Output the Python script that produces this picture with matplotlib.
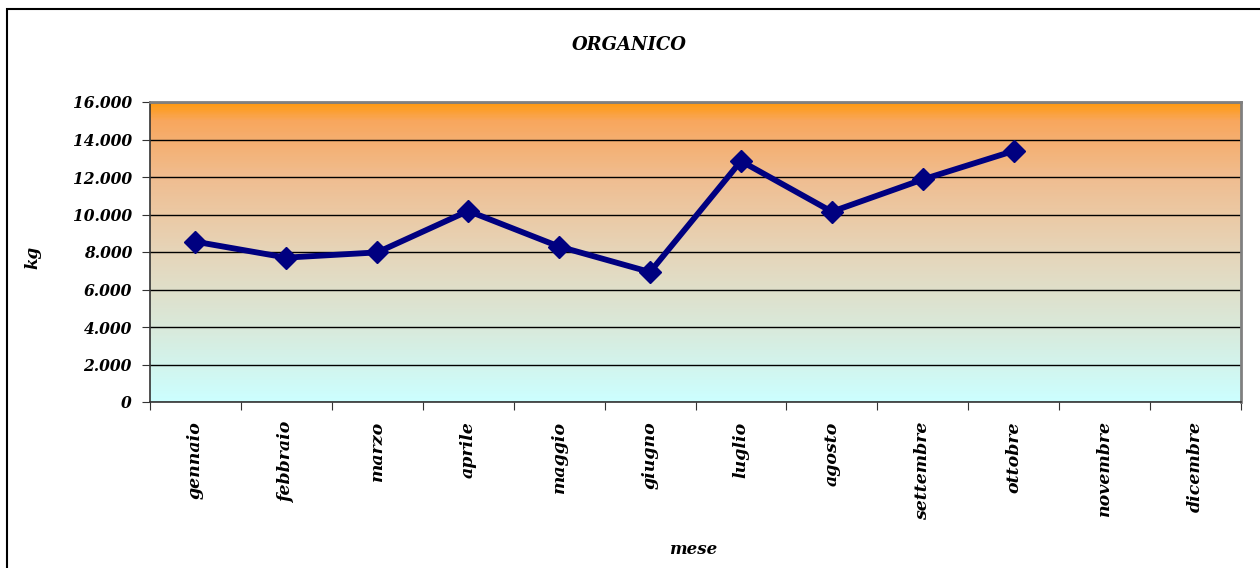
import os
import numpy as np
import matplotlib
matplotlib.use('Agg')
import matplotlib.pyplot as plt
from matplotlib.colors import LinearSegmentedColormap
from matplotlib.patches import Rectangle
from matplotlib.ticker import FuncFormatter
from matplotlib.font_manager import FontProperties

# dati
mesi = ['gennaio', 'febbraio', 'marzo', 'aprile', 'maggio', 'giugno',
        'luglio', 'agosto', 'settembre', 'ottobre', 'novembre', 'dicembre']
kg = [8550, 7700, 7980, 10190, 8290, 6930, 12850, 10150, 11870, 13390]
y_ticks = [0, 2000, 4000, 6000, 8000, 10000, 12000, 14000, 16000]

# font grassetto corsivo (file esplicito, altrimenti Liberation Serif)
fpath = os.path.join(matplotlib.get_data_path(), 'fonts', 'ttf', 'DejaVuSerif-BoldItalic.ttf')
def fp(size):
    if os.path.exists(fpath):
        return FontProperties(fname=fpath, size=size)
    return FontProperties(family='Liberation Serif', weight='bold', style='italic', size=size + 1.5)

fig = plt.figure(figsize=(12.6, 5.68), dpi=100)
W, H = 1260, 568

# cornice esterna del grafico
fig.patches.append(Rectangle((7 / W, -0.05), 1.1, 1 - 9 / H + 0.05,
                             transform=fig.transFigure, fill=False,
                             edgecolor='black', lw=1.5))

ax = fig.add_axes([150 / W, 1 - 402 / H, (1241 - 150) / W, 300 / H])

# sfondo sfumato
grad = LinearSegmentedColormap.from_list('sfondo', [
    (0.0, '#CCFFFF'), (0.25, '#D9E9DA'), (0.5, '#E6D5B9'),
    (0.75, '#F0BD90'), (0.94, '#F8A75E'), (1.0, '#FF9A10')])
ax.imshow(np.linspace(0, 1, 300).reshape(-1, 1), cmap=grad, aspect='auto',
          extent=(-0.5, 11.5, 0, 16000), origin='lower', zorder=0)

ax.set_xlim(-0.5, 11.5)
ax.set_ylim(0, 16000)
ax.set_yticks(y_ticks)
ax.yaxis.set_major_formatter(FuncFormatter(lambda v, p: f'{int(v):,}'.replace(',', '.')))
ax.grid(axis='y', color='black', lw=1, zorder=1)

ax.plot(range(len(kg)), kg, color='#000080', lw=4.2, marker='D',
        markersize=11, zorder=3)

ax.set_xticks(np.arange(-0.5, 12, 1))
ax.set_xticklabels([])
ax.set_xticks(range(12), minor=True)
ax.set_xticklabels(mesi, minor=True, rotation=90, va='top', ha='center',
                   fontproperties=fp(12.5))
ax.tick_params(axis='x', which='minor', length=0, pad=14)
ax.tick_params(axis='x', which='major', length=6, direction='out', color='#333333')
ax.tick_params(axis='y', length=6, direction='out', color='#333333', pad=7)
for lab in ax.get_yticklabels():
    lab.set_fontproperties(fp(11.2))

for s in ['top', 'right']:
    ax.spines[s].set_color('#808080')
    ax.spines[s].set_linewidth(2)
for s in ['left', 'bottom']:
    ax.spines[s].set_color('#333333')
    ax.spines[s].set_linewidth(1.2)

fig.text(629 / W, 1 - 45 / H, 'ORGANICO', ha='center', va='center', fontproperties=fp(13))
fig.text(33 / W, 1 - 257 / H, 'kg', ha='center', va='center', rotation=90, fontproperties=fp(12))
fig.text(693 / W, 1 - 550 / H, 'mese', ha='center', va='center', fontproperties=fp(12))

fig.savefig('out.png', dpi=100)
